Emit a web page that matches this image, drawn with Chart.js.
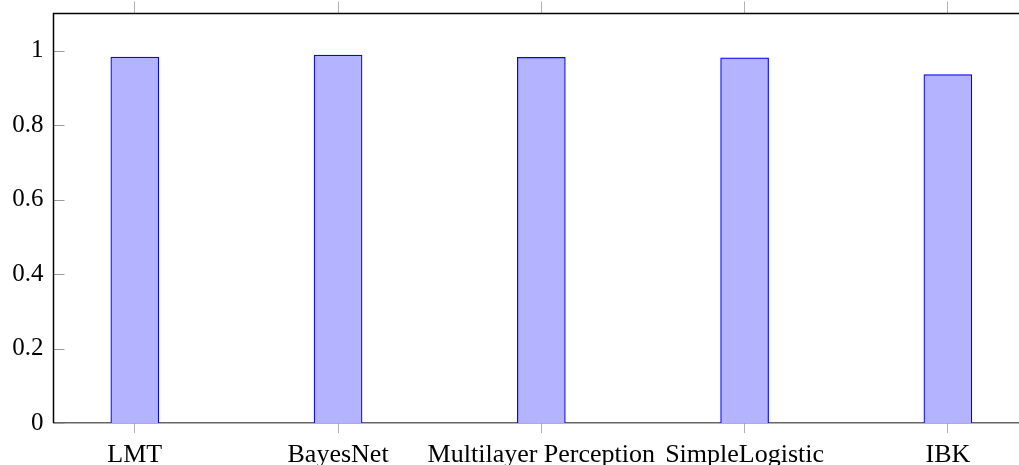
<!DOCTYPE html>
<html>
<head>
<meta charset="utf-8">
<script src="https://cdn.jsdelivr.net/npm/chart.js@4/dist/chart.umd.min.js"></script>
<style>
  html, body { margin: 0; padding: 0; background: #fff; }
  #wrap { width: 1019px; height: 465px; }
</style>
</head>
<body>
<div id="wrap"><canvas id="accChart"></canvas></div>
<script>
// classifiers and their accuracy
const categories = ['LMT', 'BayesNet', 'Multilayer Perception', 'SimpleLogistic', 'IBK'];
const accuracy = [0.983, 0.988, 0.982, 0.981, 0.936];
const yTicks = [0, 0.2, 0.4, 0.6, 0.8, 1];

const family = '"Liberation Serif", "DejaVu Serif", serif';

// bars sit on a linear x scale so the axis can run past the right edge like the original
const points = categories.map((c, i) => ({ x: i, y: accuracy[i] }));

// inside ticks on the y axis (pgfplots style) plus left/top frame
const innerTicks = {
  id: 'innerTicks',
  afterDraw(chart) {
    const { ctx, chartArea, scales } = chart;
    ctx.save();
    ctx.strokeStyle = '#9a9a9a';
    ctx.lineWidth = 1;
    yTicks.forEach(v => {
      const y = Math.round(scales.y.getPixelForValue(v)) + 0.5;
      ctx.beginPath();
      ctx.moveTo(chartArea.left, y);
      ctx.lineTo(chartArea.left + 11, y);
      ctx.stroke();
    });
    ctx.strokeStyle = '#000';
    ctx.lineWidth = 1.5;
    ctx.beginPath();
    ctx.moveTo(chartArea.left, chartArea.bottom);
    ctx.lineTo(chartArea.left, chartArea.top);
    ctx.lineTo(chartArea.right, chartArea.top);
    ctx.stroke();
    ctx.restore();
  }
};

new Chart(document.getElementById('accChart'), {
  type: 'bar',
  data: {
    datasets: [{
      data: points,
      backgroundColor: 'rgb(179,179,255)',
      borderColor: 'rgb(0,0,255)',
      borderWidth: 1.2,
      barThickness: 48
    }]
  },
  options: {
    responsive: true,
    maintainAspectRatio: false,
    animation: false,
    layout: { padding: 0 },
    plugins: { legend: { display: false }, tooltip: { enabled: false } },
    scales: {
      x: {
        type: 'linear',
        min: -0.4,
        max: 4.35,
        offset: false,
        position: 'bottom',
        grid: { drawOnChartArea: false, offset: false, tickLength: 10, color: '#b0b0b0' },
        border: { color: '#666', width: 1.5 },
        ticks: {
          stepSize: 1,
          includeBounds: false,
          font: { family, size: 26 },
          color: '#000',
          padding: 7,
          maxRotation: 0,
          autoSkip: false,
          callback: v => categories[v] ?? ''
        },
        afterFit(s) { s.height = 42; s.paddingLeft = 0; s.paddingRight = 0; }
      },
      xTop: {
        type: 'linear',
        min: -0.4,
        max: 4.35,
        offset: false,
        position: 'top',
        grid: { drawOnChartArea: false, offset: false, tickLength: 12, color: '#b0b0b0' },
        border: { display: false },
        ticks: { stepSize: 1, includeBounds: false, display: false },
        afterFit(s) { s.height = 13.5; s.paddingLeft = 0; s.paddingRight = 0; }
      },
      y: {
        min: 0,
        max: 1.1,
        grid: { display: false, drawTicks: false },
        border: { display: false },
        ticks: {
          stepSize: 0.2,
          includeBounds: false,
          font: { family, size: 25 },
          color: '#000',
          padding: 10,
          callback: v => yTicks.find(t => Math.abs(t - v) < 1e-6)?.toString() ?? ''
        },
        afterFit(s) { s.width = 53.5; s.paddingTop = 0; s.paddingBottom = 0; }
      }
    }
  },
  plugins: [innerTicks]
});
</script>
</body>
</html>
